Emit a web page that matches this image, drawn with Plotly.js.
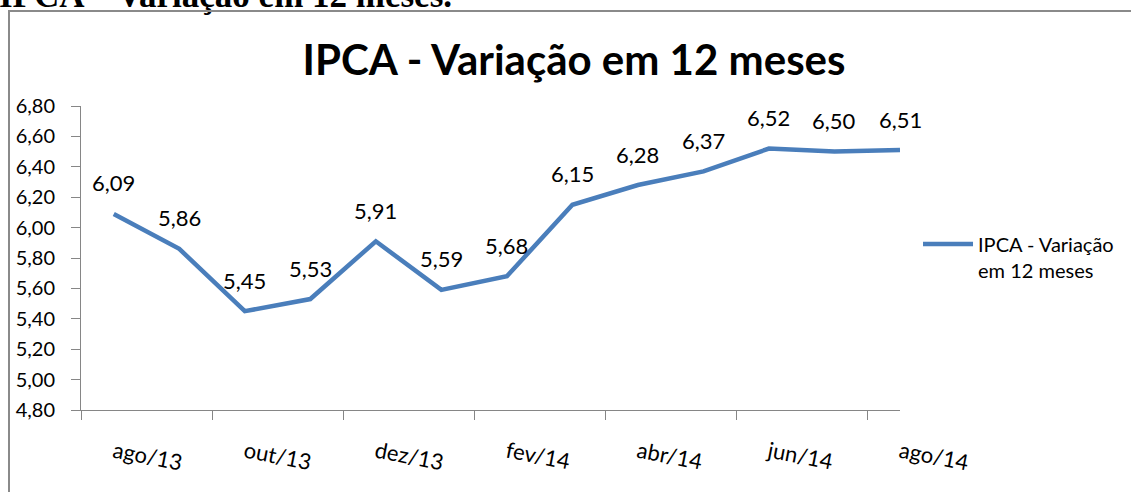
<!DOCTYPE html>
<html>
<head>
<meta charset="utf-8">
<script src="https://cdn.plot.ly/plotly-3.0.1.min.js"></script>
<style>
  html, body { margin:0; padding:0; background:#ffffff; width:1131px; height:492px; overflow:hidden; }
  #heading { position:absolute; left:-1px; top:-22px; font-family:"Liberation Serif","Times New Roman",serif; font-weight:bold; font-size:35px; line-height:35px; white-space:nowrap; color:#000; }
  #chart { position:absolute; left:0; top:0; width:1131px; height:492px; }
  #frame { position:absolute; left:8px; top:10px; width:1200px; height:600px; border:2px solid #8a8a8a; box-sizing:border-box; pointer-events:none; }
</style>
</head>
<body>
<div id="heading">IPCA – Variação em 12 meses.</div>
<div id="chart"></div>
<div id="frame"></div>
<script>
// Data
var months = ["ago/13","set/13","out/13","nov/13","dez/13","jan/14","fev/14","mar/14","abr/14","mai/14","jun/14","jul/14","ago/14"];
var ipca12m = [6.09, 5.86, 5.45, 5.53, 5.91, 5.59, 5.68, 6.15, 6.28, 6.37, 6.52, 6.50, 6.51];
var seriesName = "IPCA - Variação<br>em 12 meses";
var chartTitle = "IPCA - Variação em 12 meses";

var fmt = function (v) { return v.toFixed(2).replace('.', ','); };

var trace = {
  type: 'scatter',
  mode: 'lines',
  x: months,
  y: ipca12m,
  name: seriesName,
  line: { color: '#4A7EBB', width: 4.5, shape: 'linear' },
  hoverinfo: 'x+y'
};

var annotations = months.map(function (m, i) {
  return {
    x: m, y: ipca12m[i], xref: 'x', yref: 'y',
    text: fmt(ipca12m[i]), showarrow: false, yshift: 31,
    font: { family: 'Lato, "Open Sans", sans-serif', size: 22, color: '#000' }
  };
});

var axisColor = '#868686';
var layout = {
  width: 1131, height: 492,
  margin: { l: 81, r: 223, t: 106, b: 82 },
  paper_bgcolor: 'rgba(0,0,0,0)',
  plot_bgcolor: 'rgba(0,0,0,0)',
  separators: ',.',
  font: { family: 'Lato, "Open Sans", sans-serif', color: '#000' },
  title: {
    text: chartTitle,
    font: { family: 'Lato, "Open Sans", sans-serif', size: 42, color: '#000', weight: 'bold' },
    x: 0.5075, xanchor: 'center', xref: 'container',
    y: 0.878, yanchor: 'middle', yref: 'container'
  },
  xaxis: {
    type: 'category',
    range: [-0.5, months.length - 1],
    tickmode: 'linear', tick0: 0, dtick: 2,
    tickson: 'boundaries',
    ticks: 'outside', ticklen: 9, tickwidth: 1, tickcolor: axisColor,
    showline: true, linecolor: axisColor, linewidth: 1,
    showgrid: false, zeroline: false,
    tickangle: 11,
    tickfont: { size: 22, color: '#000' },
    ticklabelstandoff: 20,
    fixedrange: true
  },
  yaxis: {
    range: [4.8, 6.8],
    tickmode: 'linear', tick0: 4.8, dtick: 0.2,
    tickformat: '.2f',
    ticks: 'outside', ticklen: 9, tickwidth: 1, tickcolor: axisColor,
    showline: true, linecolor: axisColor, linewidth: 1,
    showgrid: false, zeroline: false,
    tickfont: { size: 20, color: '#000' },
    ticklabelstandoff: 12,
    fixedrange: true
  },
  showlegend: true,
  legend: {
    x: 1.022, xanchor: 'left', xref: 'paper',
    y: 0.61, yanchor: 'top',
    valign: 'top',
    font: { family: 'Lato, "Open Sans", sans-serif', size: 20, color: '#000' },
    bgcolor: 'rgba(0,0,0,0)', borderwidth: 0,
    itemwidth: 50
  },
  annotations: annotations
};

Plotly.newPlot('chart', [trace], layout, { staticPlot: true, displayModeBar: false });
</script>
</body>
</html>
